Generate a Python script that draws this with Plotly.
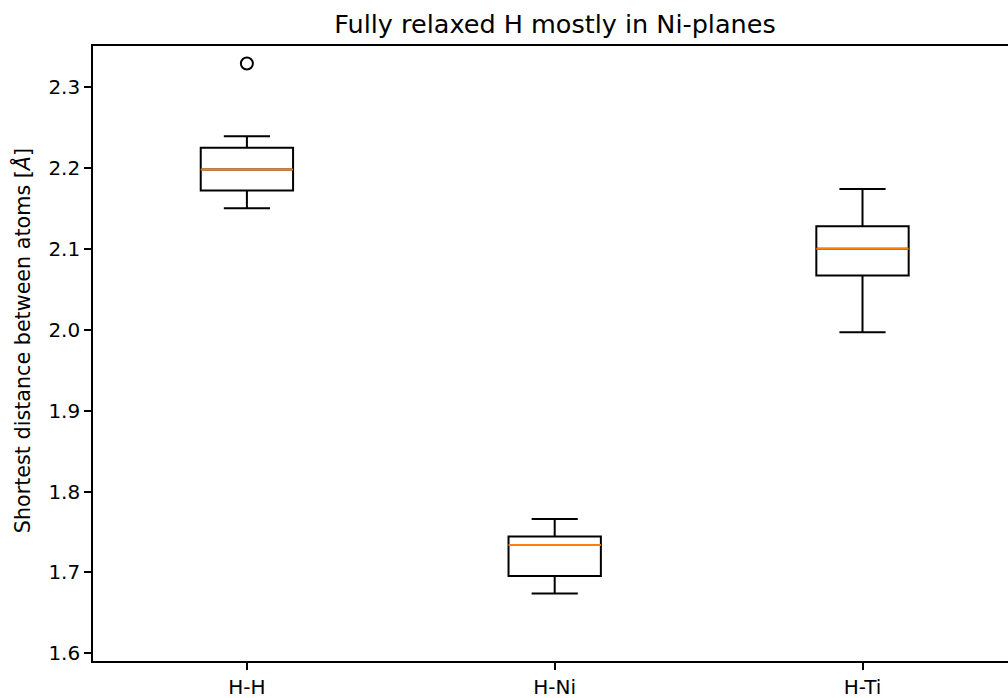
import plotly.graph_objects as go

categories = ["H-H", "H-Ni", "H-Ti"]
positions = [1, 2, 3]
lower_whisker = [2.150, 1.674, 1.997]
q1_values = [2.172, 1.6955, 2.067]
median_values = [2.198, 1.734, 2.100]
q3_values = [2.225, 1.7445, 2.128]
upper_whisker = [2.239, 1.766, 2.174]
outlier_pos = [1]
outlier_values = [2.329]

box_width = 0.3
font = "DejaVu Sans"

fig = go.Figure()
for i, name in enumerate(categories):
    fig.add_trace(go.Box(
        x=[positions[i]], q1=[q1_values[i]], median=[median_values[i]], q3=[q3_values[i]],
        lowerfence=[lower_whisker[i]], upperfence=[upper_whisker[i]],
        width=box_width, whiskerwidth=0.5, fillcolor="white",
        line=dict(color="black", width=2), boxpoints=False, name=name,
        showlegend=False, hoverinfo="skip",
    ))
    fig.add_trace(go.Scatter(
        x=[positions[i] - box_width / 2, positions[i] + box_width / 2],
        y=[median_values[i], median_values[i]], mode="lines",
        line=dict(color="#ff7f0e", width=2), showlegend=False, hoverinfo="skip",
    ))

fig.add_trace(go.Scatter(
    x=outlier_pos, y=outlier_values, mode="markers",
    marker=dict(symbol="circle-open", size=12, color="black", line=dict(width=2)),
    showlegend=False,
))

fig.update_layout(
    width=1008, height=698,
    margin=dict(l=93, r=0, t=46, b=37),
    plot_bgcolor="white", paper_bgcolor="white",
    font=dict(family=font, size=20, color="black"),
    title=dict(text="Fully relaxed H mostly in Ni-planes", x=(555 - 93) / 915, xref="paper",
               xanchor="center", y=1 - 24 / 698, yref="container", yanchor="middle",
               font=dict(family=font, size=25.5, color="black")),
    boxmode="overlay",
)
fig.update_xaxes(
    range=[0.5, 0.5 + 915 / 307.8], tickvals=positions, ticktext=categories,
    showgrid=False, zeroline=False, showline=True, linecolor="black", linewidth=1.6,
    mirror=True, ticks="outside", ticklen=7, tickwidth=1.6, tickcolor="black",
)
fig.update_yaxes(
    range=[1.5905, 2.3507], dtick=0.1, tick0=1.6, tickformat=".1f",
    showgrid=False, zeroline=False, showline=True, linecolor="black", linewidth=1.6,
    ticks="outside", ticklen=7, tickwidth=1.6, tickcolor="black",
)
fig.add_annotation(
    text="Shortest distance between atoms [<i>Å</i>]", textangle=-90,
    xref="paper", yref="paper", x=(22 - 93) / 915, y=0.52, xanchor="center", yanchor="middle",
    showarrow=False, font=dict(family=font, size=20.7, color="black"),
)

fig.write_html(
    "out.html",
    config={"displayModeBar": False},
    post_script="document.body.style.margin='0';document.body.style.overflow='hidden';",
)
